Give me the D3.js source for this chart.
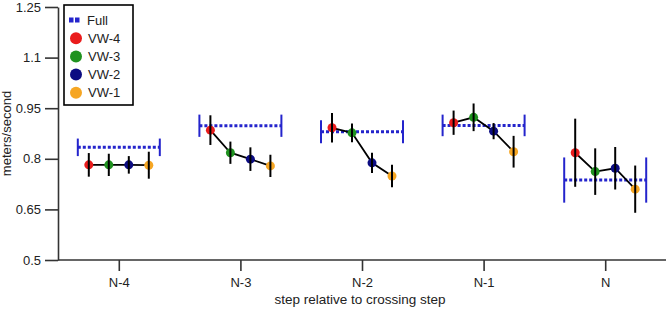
<!DOCTYPE html>
<html>
<head>
<meta charset="utf-8">
<script src="https://cdn.jsdelivr.net/npm/d3@7"></script>
<style>
  body { margin: 0; background: #fff; }
  svg { display: block; font-family: "Liberation Sans", Arial, sans-serif; }
  .axis path, .axis line { stroke: #333; stroke-width: 1.6; }
  .axis text { font-size: 13px; fill: #222; }
</style>
</head>
<body>
<div id="chart"></div>
<script>
var categories = ["N-4", "N-3", "N-2", "N-1", "N"];
var seriesNames = ["VW-4", "VW-3", "VW-2", "VW-1"];
var seriesColors = ["#ea1c1c", "#1f921f", "#0c0c82", "#f6a623"];

var full    = [0.834, 0.898, 0.880, 0.899, 0.737];
var fullErr = [0.026, 0.033, 0.034, 0.032, 0.067];

var vw4    = [0.782, 0.885, 0.892, 0.907, 0.818];
var vw4Err = [0.035, 0.044, 0.044, 0.036, 0.101];
var vw3    = [0.782, 0.818, 0.877, 0.923, 0.762];
var vw3Err = [0.033, 0.033, 0.028, 0.041, 0.069];
var vw2    = [0.782, 0.799, 0.788, 0.882, 0.772];
var vw2Err = [0.026, 0.035, 0.030, 0.024, 0.063];
var vw1    = [0.781, 0.779, 0.749, 0.821, 0.710];
var vw1Err = [0.040, 0.033, 0.033, 0.047, 0.070];

var yTicks = [0.5, 0.65, 0.8, 0.95, 1.1, 1.25];

var width = 668, height = 311;
var margin = {top: 7, left: 58, bottom: 51, right: 2};

var svg = d3.select("#chart").append("svg")
    .attr("width", width)
    .attr("height", height);

var x = d3.scalePoint()
    .domain(categories)
    .range([margin.left, width - margin.right])
    .padding(0.5);

var sub = d3.scalePoint()
    .domain(seriesNames)
    .range([-30, 30]);

var y = d3.scaleLinear()
    .domain([0.5, 1.25])
    .range([height - margin.bottom, margin.top]);

// axes
svg.append("g")
    .attr("class", "axis")
    .attr("transform", "translate(0," + (height - margin.bottom) + ")")
    .call(d3.axisBottom(x).tickSizeInner(11).tickSizeOuter(0).tickPadding(7))
    .select(".domain").attr("d", "M" + margin.left + ",0H" + (width - margin.right));

svg.append("g")
    .attr("class", "axis")
    .attr("transform", "translate(" + margin.left + ",0)")
    .call(d3.axisLeft(y).tickValues(yTicks).tickFormat(d3.format("")).tickSizeInner(13).tickSizeOuter(0).tickPadding(4));

svg.append("text")
    .attr("x", (margin.left + width - margin.right) / 2 - 2)
    .attr("y", 304)
    .attr("text-anchor", "middle")
    .style("font-size", "13.5px")
    .attr("fill", "#222")
    .text("step relative to crossing step");

svg.append("text")
    .attr("transform", "translate(11," + ((y(0.5) + y(1.25)) / 2) + ") rotate(-90)")
    .attr("text-anchor", "middle")
    .style("font-size", "13px")
    .attr("fill", "#222")
    .text("meters/second");

// full reference lines
var fullHalf = 41;
var fullG = svg.append("g");
categories.forEach(function(c, i) {
  var cx = x(c);
  fullG.append("line")
      .attr("x1", cx - fullHalf).attr("x2", cx + fullHalf)
      .attr("y1", y(full[i])).attr("y2", y(full[i]))
      .attr("stroke", "#2424cc")
      .attr("stroke-width", 3)
      .attr("stroke-dasharray", "3,2");
  [-fullHalf, fullHalf].forEach(function(dx) {
    fullG.append("line")
        .attr("x1", cx + dx).attr("x2", cx + dx)
        .attr("y1", y(full[i] - fullErr[i])).attr("y2", y(full[i] + fullErr[i]))
        .attr("stroke", "#2424cc")
        .attr("stroke-width", 2);
  });
});

// VW series
var vals = [vw4, vw3, vw2, vw1];
var errs = [vw4Err, vw3Err, vw2Err, vw1Err];

var line = d3.line()
    .x(function(d) { return d.x; })
    .y(function(d) { return d.y; });

categories.forEach(function(c, i) {
  var pts = seriesNames.map(function(s, k) {
    return {x: x(c) + sub(s), y: y(vals[k][i]), v: vals[k][i], e: errs[k][i], color: seriesColors[k]};
  });
  var g = svg.append("g");
  g.append("path")
      .attr("d", line(pts))
      .attr("fill", "none")
      .attr("stroke", "#000")
      .attr("stroke-width", 1.8);
  g.selectAll("circle")
      .data(pts)
      .enter().append("circle")
      .attr("cx", function(d) { return d.x; })
      .attr("cy", function(d) { return d.y; })
      .attr("r", 4.5)
      .attr("fill", function(d) { return d.color; });
  g.selectAll("line.err")
      .data(pts)
      .enter().append("line")
      .attr("class", "err")
      .attr("x1", function(d) { return d.x; })
      .attr("x2", function(d) { return d.x; })
      .attr("y1", function(d) { return y(d.v - d.e); })
      .attr("y2", function(d) { return y(d.v + d.e); })
      .attr("stroke", "#000")
      .attr("stroke-width", 2);
});

// legend
var legend = svg.append("g").attr("transform", "translate(64,5)");
legend.append("rect")
    .attr("width", 69).attr("height", 100)
    .attr("fill", "#fff")
    .attr("stroke", "#000")
    .attr("stroke-width", 1.6);

var legendItems = ["Full"].concat(seriesNames);
legendItems.forEach(function(name, i) {
  var ly = 15 + i * 18.2;
  if (i === 0) {
    [5, 11].forEach(function(dx) {
      legend.append("rect")
          .attr("x", dx).attr("y", ly - 2.5)
          .attr("width", 4.5).attr("height", 5)
          .attr("fill", "#2424cc");
    });
  } else {
    legend.append("circle")
        .attr("cx", 12).attr("cy", ly)
        .attr("r", 6)
        .attr("fill", seriesColors[i - 1]);
  }
  legend.append("text")
      .attr("x", i === 0 ? 23 : 24)
      .attr("y", ly)
      .attr("dy", "0.35em")
      .style("font-size", "13px")
      .attr("fill", "#222")
      .text(name);
});
</script>
</body>
</html>
